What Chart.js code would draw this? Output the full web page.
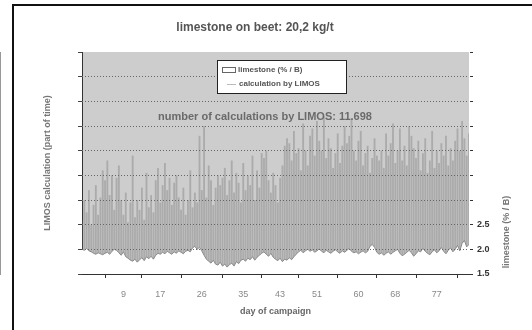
<!DOCTYPE html>
<html lang="en">
  <head>
    <meta charset="UTF-8" />
    <title>limestone on beet</title>
    <style>
      body {
        margin: 0;
        background: #fff;
      }
      #chart-box {
        width: 532px;
        height: 330px;
      }
    </style>
  </head>
  <body>
    <div id="chart-box"><canvas id="myChart" width="532" height="330"></canvas></div>
    <script src="https://cdn.jsdelivr.net/npm/chart.js"></script>
    <script>
      // days of campaign, every half day
      const days = []
      for (let i = 0; i <= 168; i++) days.push(i / 2)

      // x axis labels
      const dayTicks = [9, 17, 26, 35, 43, 51, 60, 68, 77]
      const limestoneTicks = [1.5, 2.0, 2.5]

      // LIMOS calculation (left axis, unlabeled)
      const limosCalc = [
        2.2, 3.0, 2.5, 3.4, 2.0, 2.8, 3.6, 2.4, 3.1, 4.2,
        3.8, 4.6, 3.2, 4.0, 2.6, 3.9, 4.4, 3.0, 2.4, 3.3,
        2.1, 2.9, 4.8, 2.3, 3.0, 2.6, 3.5, 2.2, 4.1, 2.7,
        3.2, 2.5, 3.8, 4.3, 2.9, 3.6, 4.5, 3.4, 3.9, 2.8,
        3.7, 4.0, 3.1, 2.6, 3.5, 2.4, 3.0, 4.2, 2.7, 3.3,
        2.9, 5.6, 3.4, 6.0, 3.1, 4.4, 3.8, 2.8, 3.5, 4.0,
        3.6, 3.9, 4.3, 3.2, 3.8, 4.6, 3.3, 4.1, 3.7, 2.9,
        4.5, 3.4, 4.0, 3.6, 4.8, 3.0, 4.2, 3.5, 4.9, 4.7,
        5.0, 3.8, 3.3, 4.1, 3.6, 2.9, 3.9, 4.4, 5.2, 5.5,
        5.3, 4.6, 5.8, 4.9, 5.1, 4.2, 6.1, 5.0, 4.4, 5.6,
        5.9, 4.8, 6.2, 5.4, 5.0, 6.4, 4.7, 5.5, 5.1, 4.3,
        4.9, 5.7, 4.5, 5.2, 6.0, 5.3, 5.6, 6.3, 5.0, 4.6,
        5.4, 5.8, 4.4, 4.9, 5.2, 4.1, 4.7, 5.5, 4.8, 4.6,
        5.0, 4.3, 5.7, 4.8, 5.3, 6.1, 4.5, 5.0, 5.9, 4.6,
        5.2, 4.4, 6.0, 5.6, 5.1, 4.7, 5.4, 4.2, 4.9, 5.5,
        4.1, 4.6, 5.8, 4.3, 5.0, 4.5, 5.3, 4.8, 5.6, 4.4,
        5.1, 4.6, 5.4, 5.9, 5.0, 6.2, 5.5, 4.8, 5.7
      ]

      // limestone (% / B), right axis
      const limestone = [
        2.00, 1.98, 2.02, 1.97, 1.95, 1.92, 1.90, 1.93, 1.91, 1.89,
        1.92, 1.94, 1.90, 1.96, 2.00, 1.98, 1.93, 1.88, 1.95, 1.85,
        1.82, 1.78, 1.76, 1.80, 1.74, 1.79, 1.83, 1.77, 1.85, 1.81,
        1.86, 1.80, 1.88, 1.92, 1.90, 1.94, 1.91, 1.96, 1.93, 1.90,
        1.95, 1.92, 1.97, 1.94, 1.91, 1.96, 1.98, 1.95, 2.03, 2.06,
        2.00, 2.04, 1.97, 1.88, 1.80, 1.76, 1.72, 1.78, 1.70, 1.68,
        1.74, 1.66, 1.70, 1.64, 1.69, 1.72, 1.66, 1.75, 1.71, 1.78,
        1.80, 1.76, 1.82, 1.79, 1.85, 1.78, 1.84, 1.88, 1.92, 1.95,
        1.90, 1.86, 1.92, 1.84, 1.80, 1.77, 1.82, 1.75, 1.80, 1.78,
        1.83, 1.79, 1.85, 1.90, 1.95, 1.98, 1.93, 1.97, 2.00, 1.96,
        1.99, 1.94, 1.97, 2.01, 1.96, 1.93, 1.98, 1.95, 1.92, 1.96,
        1.99, 1.95, 1.92, 1.97, 1.94, 1.98, 2.02, 1.96, 1.93, 1.95,
        1.91, 1.94, 1.97, 1.93, 1.96, 2.06, 2.10, 2.04, 1.94, 1.90,
        1.93, 1.88, 1.92, 1.95, 1.90, 1.94, 1.97, 2.00, 1.92, 1.87,
        1.90, 1.94, 1.98, 1.93, 1.86, 1.91, 1.97, 1.95, 2.02, 1.96,
        1.92, 1.89, 1.95, 1.99, 1.93, 1.97, 2.04, 1.96, 1.91, 1.98,
        2.03, 1.95, 2.00, 2.08, 1.97, 2.12, 2.18, 2.05, 2.10
      ]

      const font = 'Arial, "Liberation Sans", sans-serif'

      // grey plot area, frame, in-plot texts, legend, right axis title
      const decor = {
        id: 'decor',
        beforeDraw(chart) {
          const { ctx, chartArea: a } = chart
          ctx.save()
          ctx.fillStyle = '#fff'
          ctx.fillRect(0, 0, chart.width, chart.height)
          ctx.fillStyle = '#cdcdcd'
          ctx.fillRect(a.left, a.top, a.right - a.left, a.bottom - a.top)
          ctx.restore()
        },
        afterDraw(chart) {
          const { ctx } = chart
          ctx.save()
          // frame
          ctx.strokeStyle = '#111'
          ctx.lineWidth = 2
          ctx.beginPath()
          ctx.moveTo(13, 330)
          ctx.lineTo(13, 5)
          ctx.lineTo(532, 5)
          ctx.stroke()

          // note inside plot
          ctx.fillStyle = '#6a6a6a'
          ctx.font = 'bold 11px ' + font
          ctx.textAlign = 'center'
          ctx.textBaseline = 'middle'
          ctx.fillText('number of calculations by LIMOS: 11.698', 265, 117)

          // legend
          ctx.fillStyle = '#fff'
          ctx.fillRect(217, 60, 129, 33)
          ctx.strokeStyle = '#222'
          ctx.lineWidth = 1
          ctx.strokeRect(217.5, 60.5, 129, 33)
          ctx.strokeStyle = '#666'
          ctx.strokeRect(222.5, 67.5, 13, 5)
          ctx.strokeStyle = '#bbb'
          ctx.beginPath()
          ctx.moveTo(227, 84.5)
          ctx.lineTo(236, 84.5)
          ctx.stroke()
          ctx.fillStyle = '#555'
          ctx.font = 'bold 8px ' + font
          ctx.textAlign = 'left'
          ctx.fillText('limestone (% / B)', 238, 70)
          ctx.fillText('calculation by LIMOS', 239, 84)

          // right axis title
          ctx.translate(507, 232)
          ctx.rotate(-Math.PI / 2)
          ctx.fillStyle = '#777'
          ctx.font = 'bold 9px ' + font
          ctx.textAlign = 'center'
          ctx.fillText('limestone (% / B)', 0, 0)
          ctx.restore()
        }
      }

      const ctx = document.getElementById('myChart')
      const myChart = new Chart(ctx, {
        type: 'bar',
        data: {
          datasets: [
            {
              type: 'line',
              label: 'limestone (% / B)',
              data: days.map((d, i) => ({ x: d, y: limestone[i] })),
              yAxisID: 'y2',
              borderColor: '#8a8a8a',
              borderWidth: 1,
              backgroundColor: '#fff',
              fill: 'start',
              pointRadius: 0,
              tension: 0,
              order: 0
            },
            {
              type: 'bar',
              label: 'calculation by LIMOS',
              data: days.map((d, i) => ({ x: d, y: limosCalc[i] })),
              yAxisID: 'y',
              backgroundColor: 'rgba(100,100,100,0.32)',
              barPercentage: 0.8,
              categoryPercentage: 1,
              order: 1
            }
          ]
        },
        options: {
          responsive: false,
          animation: false,
          devicePixelRatio: 1,
          layout: { padding: { left: 0, right: 22, top: 0, bottom: 0 } },
          plugins: {
            legend: { display: false },
            tooltip: { enabled: false },
            title: {
              display: true,
              text: 'limestone on beet: 20,2 kg/t',
              color: '#555',
              font: { family: font, size: 12, weight: 'bold' },
              padding: { top: 20.8, bottom: 16.8 }
            }
          },
          scales: {
            x: {
              type: 'linear',
              min: 0,
              max: 84,
              offset: false,
              afterFit: (s) => { s.height = 56 },
              afterBuildTicks: (s) => { s.ticks = dayTicks.map((v) => ({ value: v })) },
              ticks: {
                autoSkip: false,
                maxRotation: 0,
                padding: 11,
                color: '#888',
                font: { family: font, size: 9 }
              },
              grid: { drawOnChartArea: false, tickLength: 4, tickColor: '#333' },
              border: { color: '#333', width: 1 },
              title: {
                display: true,
                text: 'day of campaign',
                color: '#666',
                font: { family: font, size: 9, weight: 'bold' },
                padding: { top: 0, bottom: 12.6 }
              }
            },
            y: {
              position: 'left',
              min: 0,
              max: 9,
              afterFit: (s) => { s.width = 82 },
              ticks: { display: false, stepSize: 1 },
              grid: { drawOnChartArea: false, tickLength: 4, tickColor: '#444' },
              border: { color: '#333', width: 1 },
              title: {
                display: true,
                text: 'LIMOS calculation (part of time)',
                color: '#777',
                font: { family: font, size: 9, weight: 'bold' },
                padding: { top: 42.6, bottom: 0 }
              }
            },
            y2: {
              position: 'right',
              min: 1.5,
              max: 6,
              afterFit: (s) => { s.width = 532 - 22 - 469 },
              ticks: {
                stepSize: 0.5,
                padding: 4,
                color: '#333',
                font: { family: font, size: 9, weight: 'bold' },
                callback: (v) => (limestoneTicks.includes(v) ? v.toFixed(1) : '')
              },
              grid: {
                z: 1,
                tickLength: 4,
                tickColor: '#333',
                color: (c) => (c.tick && (c.tick.value === 6 || c.tick.value === 1.5) ? 'rgba(0,0,0,0)' : '#666')
              },
              border: { color: '#333', width: 1, dash: [1, 2] }
            }
          }
        },
        plugins: [decor]
      })
    </script>
  </body>
</html>
